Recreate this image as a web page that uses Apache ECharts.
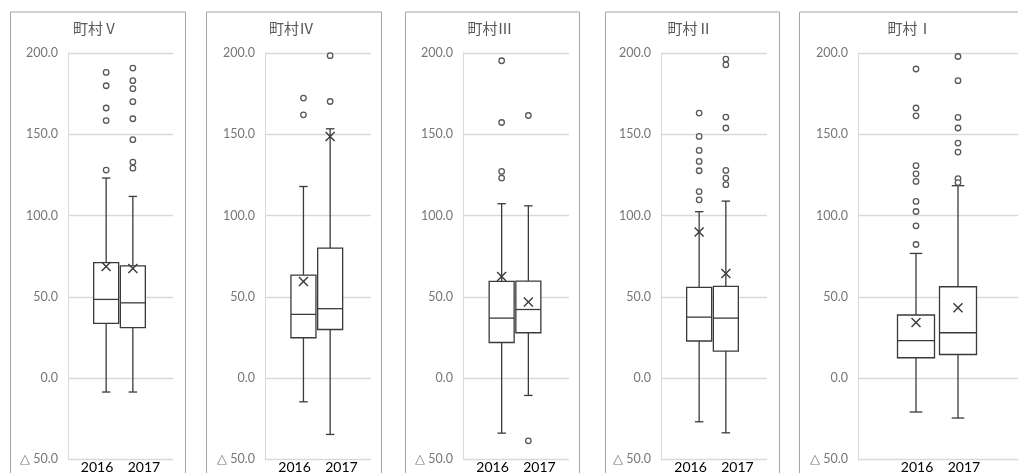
<!DOCTYPE html>
<html>
<head>
<meta charset="utf-8">
<style>
  html, body { margin: 0; padding: 0; background: #ffffff; }
  #chart { width: 1018px; height: 473px; }
</style>
<script src="https://cdn.jsdelivr.net/npm/echarts@6/dist/echarts.min.js"></script>
</head>
<body>
<div id="chart"></div>
<script>
// Years compared inside every panel
const years = ['2016', '2017'];
// Panel titles, left to right
const towns = ['町村Ⅴ', '町村Ⅳ', '町村Ⅲ', '町村Ⅱ', '町村Ⅰ'];
// Value axis ticks
const yTicks = [-50, 0, 50, 100, 150, 200];

// Five-number summaries [min, Q1, median, Q3, max] for 2016 and 2017
const boxV   = [[-8.6, 33.6, 48.4, 71.1, 123.1], [-8.6, 31.0, 46.3, 69.1, 111.8]];
const boxIV  = [[-14.6, 24.8, 39.2, 63.4, 117.9], [-34.7, 29.9, 42.7, 80.0, 153.4]];
const boxIII = [[-33.9, 21.9, 36.9, 59.5, 107.3], [-10.7, 27.9, 42.2, 59.7, 106.0]];
const boxII  = [[-26.9, 22.8, 37.5, 55.8, 102.4], [-33.7, 16.6, 36.9, 56.4, 108.9]];
const boxI   = [[-20.9, 12.5, 23.1, 38.8, 76.7], [-24.6, 14.5, 27.9, 56.2, 118.4]];

// Means for 2016 and 2017
const meanV   = [68.7, 67.5];
const meanIV  = [59.5, 148.7];
const meanIII = [62.5, 46.8];
const meanII  = [89.9, 64.4];
const meanI   = [34.2, 43.3];

// Outliers for 2016 and 2017
const outV   = [[188.1, 179.9, 166.2, 158.5, 128.0],
                [190.8, 183.0, 178.1, 170.1, 159.6, 146.7, 132.9, 129.2]];
const outIV  = [[172.3, 162.0], [198.4, 170.2]];
const outIII = [[195.3, 157.3, 127.2, 123.1], [161.6, -38.6]];
const outII  = [[163.1, 148.7, 140.1, 133.3, 127.6, 114.8, 109.7],
                [196.3, 192.8, 160.6, 153.9, 127.8, 123.1, 119.0]];
const outI   = [[190.2, 166.2, 161.4, 130.7, 125.7, 121.0, 108.7, 102.5, 93.7, 82.2],
                [197.9, 183.0, 160.4, 153.9, 144.6, 139.1, 122.7, 120.3]];

const boxes = [boxV, boxIV, boxIII, boxII, boxI];
const means = [meanV, meanIV, meanIII, meanII, meanI];
const outliers = [outV, outIV, outIII, outII, outI];

// Panel geometry: frame [left, width], plot [left, width], box pair [centre, spacing], box width
const layout = [
  { frame: [8, 175],   plot: [68, 105],  pair: [119.5, 26.7], boxW: 25 },
  { frame: [204, 175], plot: [265, 106], pair: [316.8, 26.7], boxW: 25 },
  { frame: [403, 174], plot: [463, 106], pair: [515, 26.7],   boxW: 25 },
  { frame: [603, 174], plot: [661, 106], pair: [712.5, 26.7], boxW: 25 },
  { frame: [797, 228], plot: [858, 165], pair: [937, 42],     boxW: 37 }
];

const PLOT_TOP = 53.1;
const PLOT_H = 406.2;
const INK = '#3a3a3a';
const GRID_GREY = '#d9d9d9';

const fmtY = v => (v < 0 ? '△ ' + Math.abs(v).toFixed(1) : v.toFixed(1));

const grid = [], xAxis = [], yAxis = [], series = [], graphic = [];

layout.forEach((L, p) => {
  const gA = grid.length;
  // Visible frame of the panel: value axis, grid lines, year label
  grid.push({ left: L.plot[0], top: PLOT_TOP, width: L.plot[1], height: PLOT_H,
              outerBoundsMode: 'none', containLabel: false });
  xAxis.push({
    gridIndex: gA, type: 'category', data: [years.join('    ')],
    axisLine: { show: false }, axisTick: { show: false }, splitLine: { show: false },
    axisLabel: { color: '#000000', fontSize: 14, fontFamily: 'Lato', margin: 1 }
  });
  yAxis.push({
    gridIndex: gA, type: 'value', min: yTicks[0], max: yTicks[yTicks.length - 1],
    interval: yTicks[1] - yTicks[0],
    axisLine: { show: true, lineStyle: { color: GRID_GREY, width: 1 } },
    axisTick: { show: false },
    splitLine: { show: true, lineStyle: { color: GRID_GREY, width: 1.3 } },
    axisLabel: { color: '#767676', fontSize: 12.5, fontFamily: 'Lato', margin: 10,
                 formatter: fmtY }
  });

  // Inner band holding the two boxes side by side
  const gB = grid.length;
  const half = L.pair[1];
  grid.push({ left: L.pair[0] - half, top: PLOT_TOP, width: half * 2, height: PLOT_H,
              outerBoundsMode: 'none', containLabel: false });
  xAxis.push({ gridIndex: gB, type: 'category', data: years, show: false });
  yAxis.push({ gridIndex: gB, type: 'value', min: yTicks[0], max: yTicks[yTicks.length - 1],
               show: false, splitLine: { show: false } });

  const boxData = years.map((y, i) => [i].concat(boxes[p][i], [means[p][i]]));
  const bw = L.boxW;

  series.push({
    type: 'custom',
    name: towns[p],
    xAxisIndex: gB, yAxisIndex: gB,
    data: boxData,
    encode: { x: 0, y: [1, 2, 3, 4, 5, 6] },
    z: 2,
    renderItem: function (params, api) {
      const i = api.value(0);
      const pt = v => api.coord([i, v]);
      const x = pt(api.value(3))[0];
      const yMin = pt(api.value(1))[1];
      const yQ1 = pt(api.value(2))[1];
      const yMed = pt(api.value(3))[1];
      const yQ3 = pt(api.value(4))[1];
      const yMax = pt(api.value(5))[1];
      const yMean = pt(api.value(6))[1];
      const hw = bw / 2;
      const cap = bw * 0.17;
      const m = 4.5;
      const st = { stroke: INK, lineWidth: 1.3, fill: null };
      const line = (x1, y1, x2, y2, s) => ({ type: 'line', shape: { x1, y1, x2, y2 }, style: s || st });
      return {
        type: 'group',
        children: [
          line(x, yMax, x, yQ3),
          line(x, yQ1, x, yMin),
          line(x - cap, yMax, x + cap, yMax),
          line(x - cap, yMin, x + cap, yMin),
          { type: 'rect', shape: { x: x - hw, y: yQ3, width: bw, height: yQ1 - yQ3 },
            style: { stroke: INK, lineWidth: 1.3, fill: '#ffffff' } },
          line(x - hw, yMed, x + hw, yMed),
          line(x - m, yMean - m, x + m, yMean + m, { stroke: INK, lineWidth: 1.4 }),
          line(x - m, yMean + m, x + m, yMean - m, { stroke: INK, lineWidth: 1.4 })
        ]
      };
    }
  });

  years.forEach((y, i) => {
    series.push({
      type: 'scatter',
      name: towns[p] + ' ' + y,
      xAxisIndex: gB, yAxisIndex: gB,
      data: outliers[p][i].map(v => [i, v]),
      symbol: 'circle', symbolSize: 5.5,
      itemStyle: { color: '#ffffff', borderColor: '#595959', borderWidth: 1.3, opacity: 1 },
      z: 3,
      silent: true
    });
  });

  // Panel frame and title
  graphic.push({
    type: 'rect', left: L.frame[0], top: 9.5, z: -1,
    shape: { x: 0, y: 0, width: L.frame[1], height: 480 },
    style: { stroke: '#a6a6a6', lineWidth: 1, fill: null }
  });
  graphic.push({
    type: 'text', z: 5,
    x: L.frame[0] + L.frame[1] / 2 - (p === 4 ? 1 : 0), y: 28.5,
    style: { text: towns[p], fill: '#595959', fontSize: 15,
             fontFamily: '"Noto Sans CJK JP", sans-serif',
             align: 'center', verticalAlign: 'middle' }
  });
});

const chart = echarts.init(document.getElementById('chart'), null, { renderer: 'canvas' });
chart.setOption({
  animation: false,
  backgroundColor: '#ffffff',
  grid, xAxis, yAxis, series, graphic
});
</script>
</body>
</html>
